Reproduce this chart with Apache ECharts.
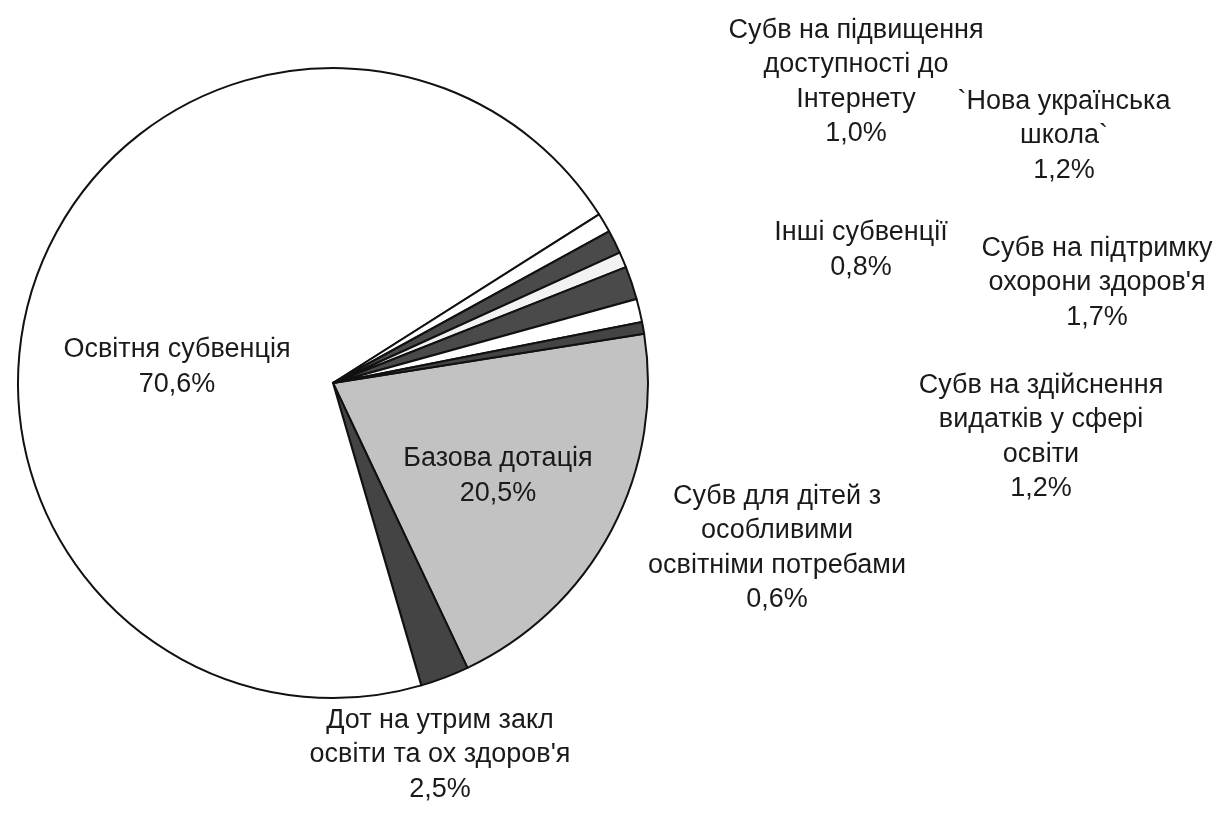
<!DOCTYPE html>
<html><head><meta charset="utf-8">
<script src="https://cdn.jsdelivr.net/npm/echarts@6/dist/echarts.min.js"></script>
<style>html,body{margin:0;padding:0;background:#fff}#c{width:1219px;height:821px}</style>
</head><body><div id="c"></div>
<script>
const categories = [
  "Базова дотація",
  "Дот на утрим закл\nосвіти та ох здоров'я",
  "Освітня субвенція",
  "Субв на підвищення\nдоступності до\nІнтернету",
  "`Нова українська\nшкола`",
  "Інші субвенції",
  "Субв на підтримку\nохорони здоров'я",
  "Субв на здійснення\nвидатків у сфері\nосвіти",
  "Субв для дітей з\nособливими\nосвітніми потребами"
];
const values = [20.5, 2.5, 70.6, 1.0, 1.2, 0.8, 1.7, 1.2, 0.6];
const fills = ["#c2c2c2", "#444444", "#ffffff", "#ffffff", "#4a4a4a", "#f2f2f2", "#4a4a4a", "#ffffff", "#444444"];
// label anchor centres (pixels)
const labelPos = [[498,476],[440,755],[177,367],[856,82],[1064,136],[861,250],[1097,283],[1041,437],[777,548]];

const chart = echarts.init(document.getElementById('c'), null, {renderer:'canvas'});
chart.setOption({
  animation: false,
  backgroundColor: '#ffffff',
  series: [{
    type: 'pie',
    center: [333, 383],
    radius: [0, 315],
    startAngle: 9,
    clockwise: true,
    avoidLabelOverlap: false,
    emphasis: {disabled: true},
    itemStyle: {borderColor: '#111', borderWidth: 2},
    label: {
      show: true,
      position: 'inside',
      color: '#1a1a1a',
      fontFamily: 'Liberation Sans, Arial, sans-serif',
      fontSize: 27,
      lineHeight: 34.5,
      align: 'center',
      verticalAlign: 'middle',
      formatter: p => p.name + '\n' + p.value.toFixed(1).replace('.', ',') + '%'
    },
    labelLine: {show: false},
    labelLayout: p => ({x: labelPos[p.dataIndex][0], y: labelPos[p.dataIndex][1], align: 'center', verticalAlign: 'middle'}),
    data: categories.map((n, i) => ({name: n, value: values[i], itemStyle: {color: fills[i]}}))
  }]
});
</script></body></html>
